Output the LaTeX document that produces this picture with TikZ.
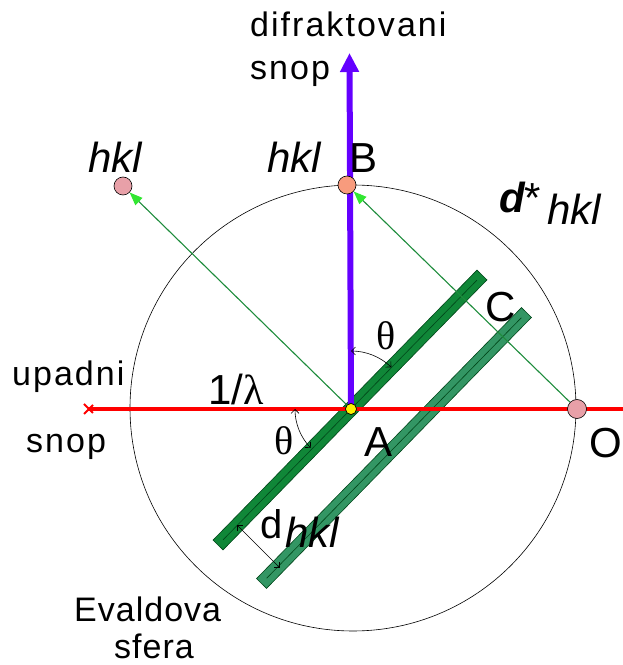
\documentclass[tikz,border=0pt]{standalone}
\usepackage{fontspec}
\setmainfont{Liberation Sans}
\newfontfamily\spc[LetterSpace=6]{Liberation Sans}
\newfontfamily\spcb[LetterSpace=3]{Liberation Sans}
\newfontfamily\srf{Liberation Serif}
\usetikzlibrary{arrows.meta,calc}
\definecolor{beamred}{RGB}{255,0,0}
\definecolor{beamblue}{RGB}{100,0,255}
\definecolor{planeA}{RGB}{16,135,56}
\definecolor{planeB}{RGB}{51,150,100}
\definecolor{planeEdge}{RGB}{0,70,25}
\definecolor{vecgreen}{RGB}{30,140,60}
\definecolor{tipgreen}{RGB}{50,230,50}
\definecolor{dotpink}{RGB}{232,160,168}
\definecolor{dotsalmon}{RGB}{248,155,125}
\newcommand\fsA{\fontsize{34}{40}\selectfont}
\newcommand\fsB{\fontsize{42}{48}\selectfont}
\begin{document}
\begin{tikzpicture}[x=1pt,y=1pt,
  txt/.style={inner sep=0pt, anchor=base west},
  dotnode/.style={circle, draw=black, line width=0.6pt, inner sep=0pt},
  planebar/.style={rectangle, draw=planeEdge, line width=0.6pt, inner sep=0pt, minimum height=14pt, rotate=45.65},
  vec/.style={draw=vecgreen, line width=1.1pt, -{Triangle[length=13pt,width=10pt,color=tipgreen]}},
  anglearrow/.style={line width=0.6pt, {Straight Barb[length=4pt,width=8pt]}-{Straight Barb[length=4pt,width=8pt]}}
]
\useasboundingbox (0,0) rectangle (623,665);
% Ewald sphere
\node[circle, draw=black, line width=0.6pt, minimum size=446pt, inner sep=0pt] (sph) at (353,257) {};
% lattice planes
\node[planebar, fill=planeA, minimum width=377.6pt] (bar1) at (350,255) {};
\node[planebar, fill=planeB, minimum width=379pt] (bar2) at (394,217) {};
\draw[planeEdge, line width=0.6pt] ($(bar1.west)!0.02!(bar1.east)$) -- ($(bar1.east)!0.02!(bar1.west)$);
\draw[planeEdge, line width=0.6pt] ($(bar2.west)!0.02!(bar2.east)$) -- ($(bar2.east)!0.02!(bar2.west)$);
% point positions
\coordinate (Ac) at (351,256);
\coordinate (Oc) at (577,256);
\coordinate (Bc) at (347,480);
\coordinate (inStart) at (88,256);
\coordinate (inEnd) at (623,256);
\coordinate (difTip) at (349.5,612);
% incident beam
\draw[beamred, line width=4pt] (inStart) -- (inEnd);
\draw[beamred, line width=1.8pt] ($(inStart)+(-4,-5)$) -- ($(inStart)+(5,4)$);
\draw[beamred, line width=1.8pt] ($(inStart)+(-4,5)$) -- ($(inStart)+(5,-4)$);
% diffracted beam
\draw[beamblue, line width=6pt, -{Triangle[length=19pt,width=18pt]}] (Ac) -- (difTip);
% points
\node[dotnode, fill=yellow, minimum size=11pt] (A) at (Ac) {};
\node[dotnode, fill=dotpink, minimum size=18pt] (hklL) at (123,479) {};
\node[dotnode, fill=dotsalmon, minimum size=18pt] (Bd) at (Bc) {};
\node[dotnode, fill=dotpink, minimum size=19pt] (O) at (Oc) {};
% reciprocal vectors
\draw[vec] (A) -- (hklL);
\draw[vec] (O) -- (Bd);
\node[dotnode, fill=yellow, minimum size=11pt] at (A) {};
% angles
\draw[anglearrow] ($(Ac)+(90:58)$) arc[start angle=90, end angle=46, radius=58];
\draw[anglearrow] ($(Ac)+(180:56)$) arc[start angle=180, end angle=224, radius=56];
\coordinate (dA) at (237,140);
\coordinate (dB) at (280,97);
\draw[anglearrow] (dA) -- (dB);
% texts
\node[txt] (tdif) at (250,628) {\spc\fsA difraktovani};
\node[txt] (tsnop1) at (250,585) {\spc\fsA snop};
\node[txt] (thklL) at (88,492) {\fsB\itshape hkl};
\node[txt] (thklM) at (267,492) {\fsB\itshape hkl};
\node[txt] (tB) at (349,492) {\fsB B};
\node[txt] (tds) at (499,452) {\fsB\bfseries\itshape d\mdseries\upshape *};
\node[txt] (tdsh) at (547,440) {\fsB\itshape hkl};
\node[txt] (tC) at (485,343) {\fsB C};
\node[txt] (tth1) at (376,315) {\fontsize{40}{46}\selectfont\srf θ};
\node[txt] (tupadni) at (12,279) {\spc\fsA upadni};
\node[txt] (tlam) at (208,260) {\fsB 1/{\srf λ}};
\node[txt] (tsnop2) at (26,212) {\spc\fsA snop};
\node[txt] (tth2) at (274,210) {\fontsize{40}{46}\selectfont\srf θ};
\node[txt] (tA) at (364,208) {\fsB A};
\node[txt] (tO) at (589,207) {\fsB O};
\node[txt] (td) at (260,126) {\fontsize{40}{46}\selectfont d};
\node[txt] (tdh) at (285,117) {\fsB\itshape hkl};
\node[txt] (tev) at (74,43) {\spcb\fsA Evaldova};
\node[txt] (tsf) at (114,6) {\spcb\fsA sfera};
\end{tikzpicture}
\end{document}
